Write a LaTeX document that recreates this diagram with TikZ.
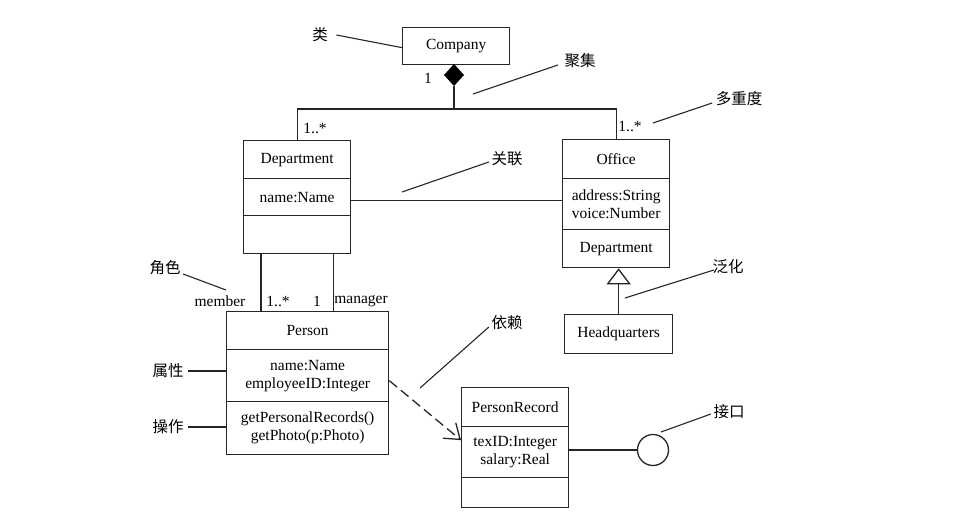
\documentclass[tikz,border=0pt]{standalone}
\usepackage{fontspec}
\setmainfont{Liberation Serif}
\newfontfamily\cjk{Noto Sans CJK SC}
\usetikzlibrary{arrows.meta,calc}
\begin{document}
\begin{tikzpicture}[x=1pt,y=-1pt,
  font=\fontsize{15.5}{18}\selectfont,
  line width=1.3pt,
  draw=black!85,
  comp/.style={draw, rectangle, anchor=north west, inner sep=0pt, align=center, minimum width=#1},
  lbl/.style={inner sep=2pt, font=\fontsize{15.5}{18}\selectfont\cjk},
  mult/.style={inner sep=0pt},
  leader/.style={line width=1.1pt}
]
\useasboundingbox (0,0) rectangle (971,517);

% Company
\node[comp=107pt, minimum height=37pt] (comp) at (402,27) {Company};

% Department
\node[comp=107pt, minimum height=38pt] (dept1) at (243,140) {Department};
\node[comp=107pt, minimum height=37pt] (dept2) at (243,178) {name:Name};
\node[comp=107pt, minimum height=38pt] (dept3) at (243,215) {};

% Office
\node[comp=107pt, minimum height=39pt] (off1) at (562,139) {Office};
\node[comp=107pt, minimum height=51pt] (off2) at (562,178) {address:String\\voice:Number};
\node[comp=107pt, minimum height=38pt] (off3) at (562,229) {Department};

% Headquarters
\node[comp=108pt, minimum height=39pt] (hq) at (564,314) {Headquarters};

% Person
\node[comp=162pt, minimum height=38pt] (pers1) at (226,311) {Person};
\node[comp=162pt, minimum height=52pt] (pers2) at (226,349) {name:Name\\employeeID:Integer};
\node[comp=162pt, minimum height=53pt] (pers3) at (226,401) {getPersonalRecords()\\getPhoto(p:Photo)};

% PersonRecord
\node[comp=107pt, minimum height=39pt] (pr1) at (461,387) {PersonRecord};
\node[comp=107pt, minimum height=51pt] (pr2) at (461,426) {texID:Integer\\salary:Real};
\node[comp=107pt, minimum height=30pt] (pr3) at (461,477) {};

% Interface
\node[draw, circle, minimum size=31pt, inner sep=0pt] (iface) at (653,450) {};

% Aggregation diamond
\coordinate (dtop) at (454,64);
\coordinate (dbot) at (454,86);
\coordinate (junc) at (454,109);
\fill (dtop) -- (464,75) -- (dbot) -- (444,75) -- cycle;
\draw (dbot) -- (junc);
\draw (dept1.north) |- (junc) -| (off1.north);

% Association Department - Office
\draw ([yshift=-3pt]dept2.east) -- ([yshift=-3pt]dept2.east -| off2.west);

% Department - Person associations
\draw ([xshift=18pt]dept3.south west) -- ([xshift=18pt]dept3.south west |- pers1.north);
\draw ([xshift=-18pt]dept3.south east) -- ([xshift=-18pt]dept3.south east |- pers1.north);

% Generalization
\draw[-{Triangle[open, width=24pt, length=16pt, line width=1.3pt]}] (hq.north) -- (hq.north |- off3.south);

% Dependency
\draw[dash pattern=on 10pt off 5pt, -{Straight Barb[length=14pt, width=20pt, line width=1.3pt]}] ([yshift=-5pt]pers2.east) -- ([yshift=12pt]pr2.west);

% Interface line
\draw (pr2.east |- iface) -- (iface.west);

% Multiplicities and roles
\node[mult] (m1) at (428,78) {1};
\node[mult] (m2) at (315,128) {1..*};
\node[mult] (m3) at (630,126) {1..*};
\node[mult] (rmem) at (220,301) {member};
\node[mult] (m4) at (278,301) {1..*};
\node[mult] (m5) at (317,301) {1};
\node[mult] (rman) at (361,301) {manager};

% Annotation labels
\node[lbl] (llei) at (320,35) {类};
\node[lbl] (ljj) at (580,61) {聚集};
\node[lbl] (ldcd) at (739,99) {多重度};
\node[lbl] (lgl) at (507,159) {关联};
\node[lbl] (ljs) at (165,268) {角色};
\node[lbl] (lfh) at (728,267) {泛化};
\node[lbl] (lyl) at (507,323) {依赖};
\node[lbl] (ljk) at (729,412) {接口};
\node[lbl] (lsx) at (168,371) {属性};
\node[lbl] (lcz) at (168,427) {操作};

% Leader end points
\coordinate (pjj) at (473,94);
\coordinate (pdcd) at (653,123);
\coordinate (pgl) at (402,192);
\coordinate (pjs) at (226,290);
\coordinate (pfh) at (625,298);
\coordinate (pyl) at (420,388);
\coordinate (pjk) at (661,432);

\draw[leader] ([xshift=6pt]llei.east) -- ([yshift=-1.5pt]comp.west);
\draw[leader] (pjj) -- ([xshift=-4pt,yshift=-4pt]ljj.west);
\draw[leader] (pdcd) -- ([xshift=-1pt,yshift=-4pt]ldcd.west);
\draw[leader] (pgl) -- ([yshift=-3pt]lgl.west);
\draw[leader] ([yshift=-6pt]ljs.east) -- (pjs);
\draw[leader] (pfh) -- ([xshift=4pt,yshift=-3pt]lfh.west);
\draw[leader] (pyl) -- ([yshift=-4pt]lyl.west);
\draw[leader] (pjk) -- ([yshift=-2pt]ljk.west);
\draw[leader] ([xshift=2pt]lsx.east) -- (lsx.east -| pers2.west);
\draw[leader] ([xshift=2pt]lcz.east) -- (lcz.east -| pers3.west);
\end{tikzpicture}
\end{document}
